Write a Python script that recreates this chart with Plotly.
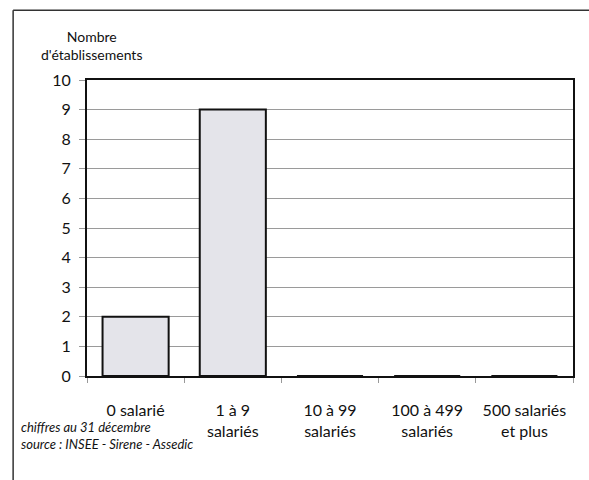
import plotly.graph_objects as go

categories = ["0 salarié", "1 à 9<br>salariés", "10 à 99<br>salariés", "100 à 499<br>salariés", "500 salariés<br>et plus"]
values = [2, 9, 0, 0, 0]
y_ticks = list(range(0, 11))

FONT = "Lato, Open Sans, sans-serif"

fig = go.Figure()
fig.add_trace(go.Bar(
    x=categories, y=values,
    marker=dict(color="#e4e4ea", line=dict(color="#111111", width=2)),
    width=0.68,
))

fig.update_layout(
    width=589, height=480,
    margin=dict(l=87, r=16, t=80, b=104),
    paper_bgcolor="white", plot_bgcolor="white",
    showlegend=False,
    font=dict(family=FONT, color="#111111"),
    xaxis=dict(
        type="category", tickson="boundaries", ticks="outside", ticklen=5,
        tickcolor="#999999", showgrid=False, showline=True, linecolor="#111111",
        linewidth=2, mirror=True, tickfont=dict(size=16, family=FONT),
        ticklabelstandoff=19, range=[-0.5, 4.5], tickangle=0, automargin=False,
    ),
    yaxis=dict(
        range=[0, 10], tickvals=y_ticks, ticks="outside", ticklen=6,
        tickcolor="#999999", showgrid=True, gridcolor="#9a9a9a", gridwidth=1,
        showline=True, linecolor="#111111", linewidth=2, mirror=True,
        tickfont=dict(size=16, family=FONT), zeroline=False,
        ticklabelstandoff=5, automargin=False,
    ),
    annotations=[
        dict(text="Nombre<br>d'établissements", xref="paper", yref="paper",
             x=0.01, y=1.0, yshift=15, xanchor="center", yanchor="bottom",
             showarrow=False, align="center", font=dict(size=14, family=FONT)),
        dict(text="<i>chiffres au 31 décembre<br>source : INSEE - Sirene - Assedic</i>",
             xref="paper", yref="paper", x=-0.14, y=-0.138, xanchor="left", yanchor="top",
             showarrow=False, align="left", font=dict(size=13, family=FONT)),
    ],
    shapes=[
        dict(type="line", xref="paper", yref="paper", x0=-0.152, x1=1.1, y0=1.236, y1=1.236,
             line=dict(color="#333333", width=1.5)),
        dict(type="line", xref="paper", yref="paper", x0=-0.152, x1=-0.152, y0=1.236, y1=-0.4,
             line=dict(color="#333333", width=1.5)),
    ],
)

fig.write_html("out.html", config={"displayModeBar": False},
               post_script="document.body.style.margin='0';")
